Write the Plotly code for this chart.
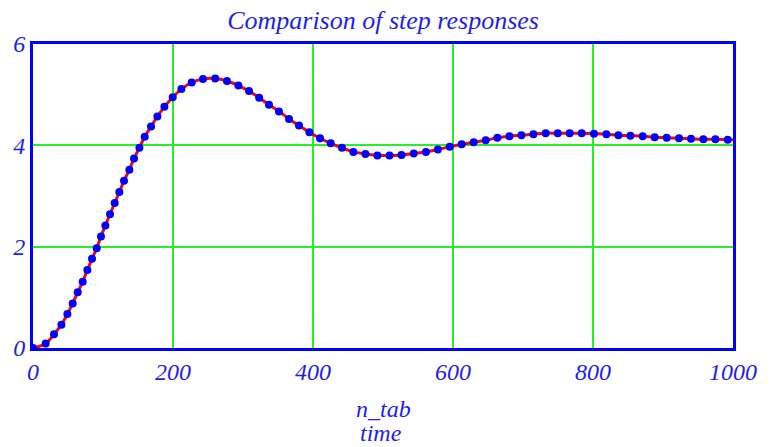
import plotly.graph_objects as go

# Blue dots (n_tab)
n_tab = [0, 18.1, 30.0, 40.6, 49.1, 56.7, 63.9, 71.0, 77.7, 84.3, 91.0, 97.1, 103.4, 110.0,
         116.7, 123.4, 130.0, 137.7, 144.3, 152.0, 159.6, 168.6, 177.7, 187.7, 199.6, 212.0,
         226.7, 242.9, 260.3, 277.1, 293.4, 308.6, 323.1, 337.1, 351.4, 365.7, 380.0, 394.9,
         410.0, 425.3, 441.4, 457.7, 474.9, 492.0, 509.3, 526.4, 543.9, 561.3, 578.4, 595.3,
         612.4, 629.6, 646.7, 663.4, 680.6, 697.7, 714.9, 732.4, 749.6, 766.7, 783.9, 801.4,
         819.1, 836.3, 853.4, 871.0, 888.1, 905.3, 922.9, 940.0, 957.7, 974.9, 992.4]
y_tab = [0, 0.09, 0.27, 0.46, 0.67, 0.88, 1.10, 1.31, 1.54, 1.76, 1.97, 2.20, 2.42, 2.64,
         2.86, 3.08, 3.30, 3.52, 3.74, 3.95, 4.17, 4.37, 4.57, 4.76, 4.95, 5.11,
         5.24, 5.31, 5.32, 5.27, 5.18, 5.07, 4.94, 4.80, 4.67, 4.52, 4.39, 4.26,
         4.14, 4.04, 3.95, 3.87, 3.83, 3.80, 3.80, 3.81, 3.84, 3.87, 3.92, 3.97,
         4.02, 4.06, 4.10, 4.15, 4.18, 4.20, 4.22, 4.24, 4.24, 4.24, 4.24, 4.23,
         4.22, 4.20, 4.19, 4.18, 4.16, 4.15, 4.14, 4.13, 4.12, 4.12, 4.11]

# Red line (time)
time = n_tab + [1000]
y_time = y_tab + [4.11]

x_ticks = [0, 200, 400, 600, 800, 1000]
y_ticks = [0, 2, 4, 6]

BLUE = "#0000ff"
TXT = "#1e1ef0"
GRID = "rgb(40,240,40)"
FONT = "Liberation Serif"

fig = go.Figure()
fig.add_trace(go.Scatter(x=time, y=y_time, mode="lines", line=dict(color="#ff0000", width=3, shape="spline"),
                         showlegend=False, hoverinfo="skip"))
fig.add_trace(go.Scatter(x=n_tab, y=y_tab, mode="markers", marker=dict(color=BLUE, size=8),
                         showlegend=False, cliponaxis=True))

fig.update_layout(
    width=777, height=447,
    margin=dict(l=33, r=44, t=44, b=99, autoexpand=False),
    paper_bgcolor="white", plot_bgcolor="white",
    title=dict(text="<i>Comparison of step responses</i>", x=0.493, xanchor="center",
               y=0.955, yanchor="middle", font=dict(family=FONT, size=26, color=TXT)),
    xaxis=dict(range=[0, 1000], tickvals=x_ticks, ticktext=[f"<i>{v}</i>" for v in x_ticks],
               showgrid=True, gridcolor=GRID, gridwidth=2, zeroline=False, automargin=False,
               showline=True, linecolor=BLUE, linewidth=3, mirror=True, ticks="",
               tickfont=dict(family=FONT, size=24, color=TXT)),
    yaxis=dict(range=[0, 6], tickvals=y_ticks, ticktext=[f"<i>{v}</i>" for v in y_ticks],
               showgrid=True, gridcolor=GRID, gridwidth=2, zeroline=False, automargin=False,
               showline=True, linecolor=BLUE, linewidth=3, mirror=True, ticks="",
               tickfont=dict(family=FONT, size=24, color=TXT)),
    annotations=[
        dict(text="<i>n_tab</i>", xref="paper", yref="paper", x=0.5, y=-0.2, xanchor="center",
             yanchor="middle", showarrow=False, font=dict(family=FONT, size=24, color=TXT)),
        dict(text="<i>time</i>", xref="paper", yref="paper", x=0.497, y=-0.28, xanchor="center",
             yanchor="middle", showarrow=False, font=dict(family=FONT, size=24, color=TXT)),
    ],
)

fig.write_html("out.html", config={"displayModeBar": False},
               post_script="document.body.style.margin='0';document.body.style.overflow='hidden';")
